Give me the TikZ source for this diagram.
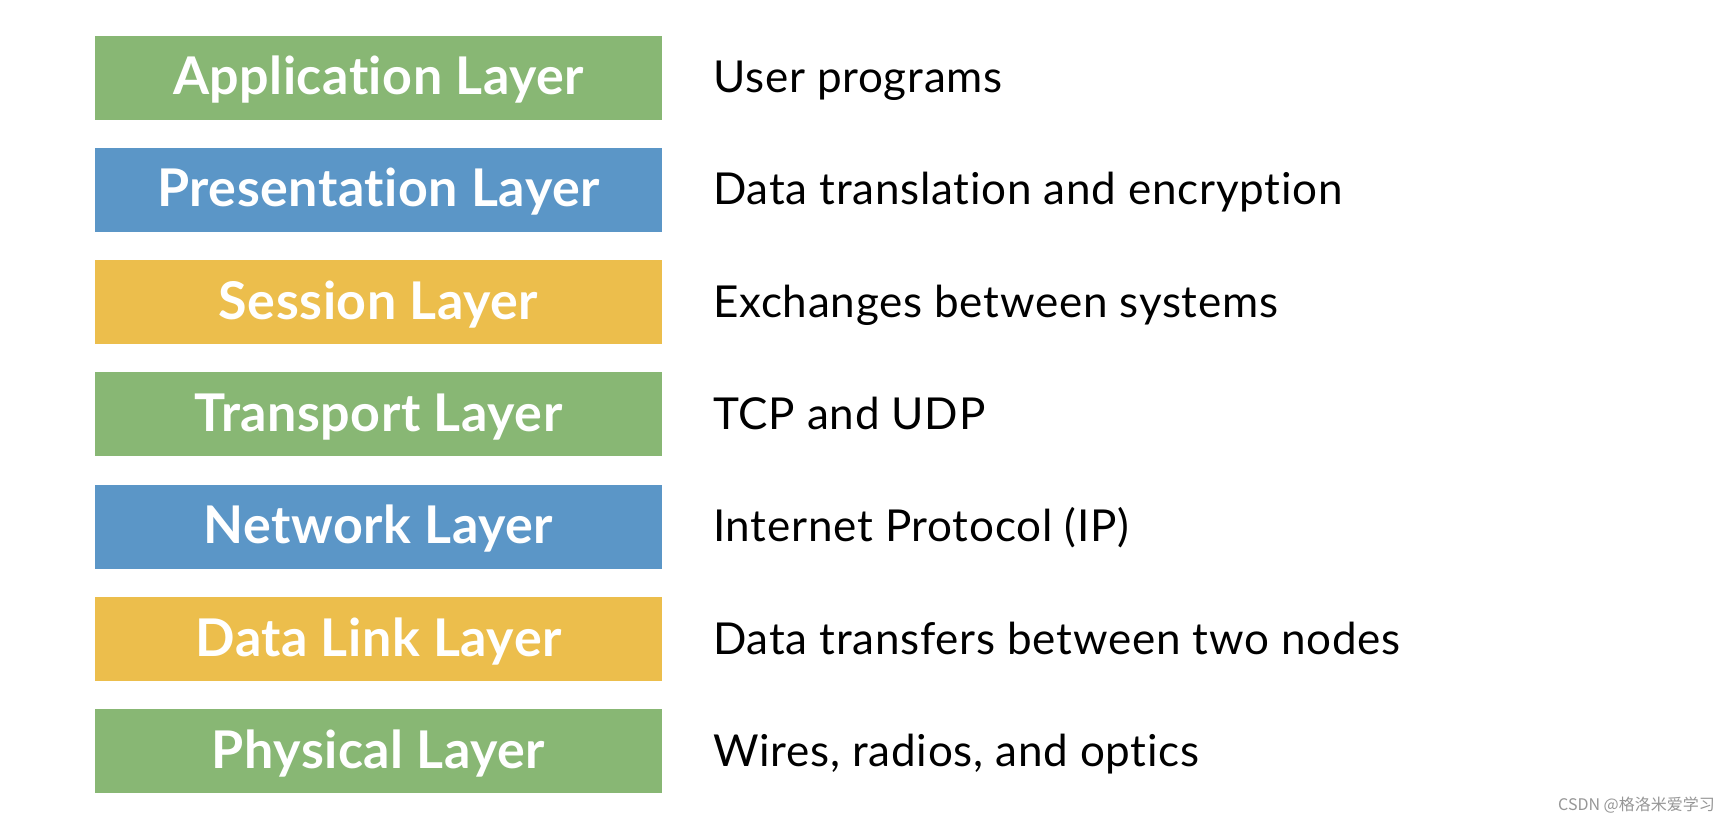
\documentclass[tikz,border=0pt]{standalone}
\usepackage{fontspec}
\setmainfont{Lato}[Ligatures=NoCommon]
\newfontfamily\descfont{Lato}[Ligatures=NoCommon,LetterSpace=1.7]
\newfontfamily\boxfont{Lato}[Ligatures=NoCommon,LetterSpace=1.0]
\newfontfamily\cjk{Noto Sans CJK SC}
\definecolor{lgreen}{RGB}{136,183,116}
\definecolor{lblue}{RGB}{91,150,199}
\definecolor{lyellow}{RGB}{236,190,76}
\definecolor{wmgray}{RGB}{150,150,150}
\begin{document}
\begin{tikzpicture}[x=1pt,y=-1pt,
  layerbox/.style={draw=none,minimum width=567pt,minimum height=84pt,inner sep=0pt,anchor=center},
  layertext/.style={text=white,font=\boxfont\fontsize{52}{60}\selectfont\bfseries,inner sep=0pt,anchor=base},
  desc/.style={font=\descfont\fontsize{44}{50}\selectfont,inner sep=0pt,anchor=base west,text=black}]
\useasboundingbox[fill=white] (0,0) rectangle (1731,823);
\foreach \n/\c/\t/\d [count=\i from 0] in {
  app/lgreen/Application Layer/User programs,
  pres/lblue/Presentation Layer/Data translation and encryption,
  sess/lyellow/Session Layer/Exchanges between systems,
  trans/lgreen/Transport Layer/TCP and UDP,
  net/lblue/Network Layer/Internet Protocol (IP),
  link/lyellow/Data Link Layer/Data transfers between two nodes,
  phys/lgreen/Physical Layer/{Wires, radios, and optics}}{
  \pgfmathsetmacro{\yc}{77.5+112.3*\i}
  \node[layerbox,fill=\c] (\n) at (378.5,\yc) {};
  \node[layertext] (\n t) at ([yshift=-17pt]\n.center) {\t};
  \node[desc] (\n d) at (713,\yc+15) {\d};
}
\node[font=\cjk\fontsize{16}{18}\selectfont,text=wmgray,anchor=base east,inner sep=0pt] (wm) at (1715,810) {CSDN @格洛米爱学习};
\end{tikzpicture}
\end{document}
